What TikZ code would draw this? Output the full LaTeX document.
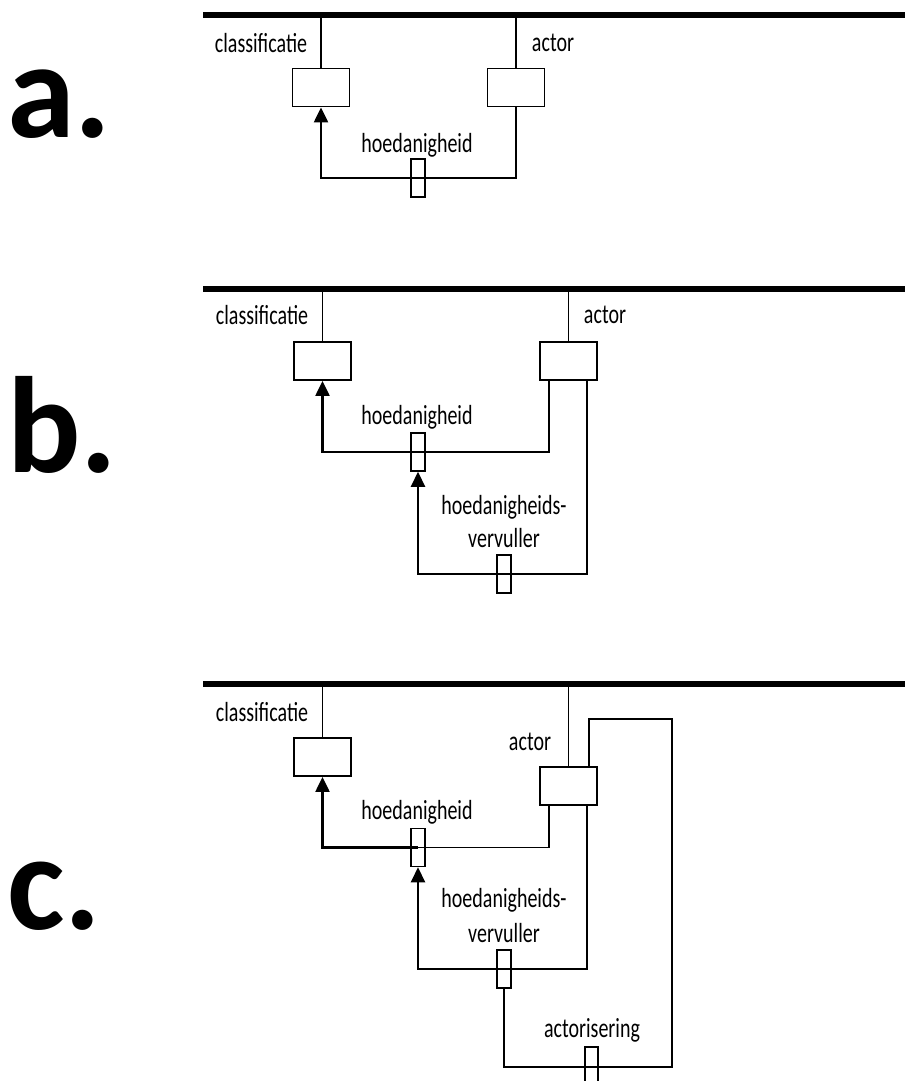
\documentclass[tikz,border=0pt]{standalone}
\usepackage{fontspec}
\setmainfont{Carlito}
\usetikzlibrary{arrows.meta}
\newcommand{\lab}[1]{\scalebox{1}[1.38]{#1}}
\begin{document}
\begin{tikzpicture}[x=1pt,y=-1pt,
  bar/.style={line width=6pt},
  thin/.style={line width=1.3pt},
  thick2/.style={line width=2.2pt},
  objbox/.style={draw,line width=1.8pt,minimum width=57pt,minimum height=38pt,inner sep=0pt},
  relbox/.style={draw,line width=1.5pt,minimum width=14pt,minimum height=38pt,inner sep=0pt},
  lbl/.style={font=\fontsize{20}{23}\selectfont,inner sep=0pt},
  letter/.style={font=\fontsize{137}{137}\selectfont\bfseries,inner sep=0pt,anchor=base west},
  arr/.style={thick2,-{Triangle[width=14pt,length=15pt]}}]
\useasboundingbox (0,0) rectangle (905,1081);

% letters
\node[letter] (la) at (7,137) {a.};
\node[letter] (lb) at (7,472) {b.};
\node[letter] (lc) at (7,929) {c.};

% ---------- panel a ----------
\coordinate (barAl) at (203,15);
\coordinate (barAr) at (905,15);
\draw[bar] (barAl) -- (barAr);
\node[objbox] (classA) at (321,87.5) {};
\node[objbox] (actorA) at (516,87.5) {};
\node[relbox] (hA) at (418,178) {};
\coordinate (tA1) at (321,15);
\coordinate (tA2) at (516,15);
\draw[thin] (tA1) -- (classA.north);
\draw[thin] (tA2) -- (actorA.north);
\draw[thin] (actorA.south) |- (hA.center);
\draw[arr] (hA.center) -| (classA.south);
\node[lbl] (lclassA) at (261,43) {\lab{classificatie}};
\node[lbl] (lactorA) at (553,43) {\lab{actor}};
\node[lbl] (lhA) at (417,145) {\lab{hoedanigheid}};

% ---------- panel b ----------
\coordinate (barBl) at (203,289);
\coordinate (barBr) at (905,289);
\draw[bar] (barBl) -- (barBr);
\node[objbox] (classB) at (322.5,361) {};
\node[objbox] (actorB) at (568.5,361) {};
\node[relbox] (hB) at (418,452) {};
\node[relbox] (hvB) at (504,574) {};
\coordinate (tB1) at (322.5,289);
\coordinate (tB2) at (568.5,289);
\draw[thin] (tB1) -- (classB.north);
\draw[thin] (tB2) -- (actorB.north);
\coordinate (aB1) at (549,380);
\coordinate (aB2) at (587,380);
\draw[thin] (aB1) |- (hB.center);
\draw[arr] (hB.center) -| (classB.south);
\draw[thin] (aB2) |- (hvB.center);
\draw[arr] (hvB.center) -| (hB.south);
\node[lbl] (lclassB) at (262,315) {\lab{classificatie}};
\node[lbl] (lactorB) at (605,315) {\lab{actor}};
\node[lbl] (lhB) at (417,417) {\lab{hoedanigheid}};
\node[lbl] (lhvB1) at (504,507) {\lab{hoedanigheids-}};
\node[lbl] (lhvB2) at (504,538) {\lab{vervuller}};

% ---------- panel c ----------
\coordinate (barCl) at (203,684);
\coordinate (barCr) at (905,684);
\draw[bar] (barCl) -- (barCr);
\node[objbox] (classC) at (322.5,757) {};
\node[objbox] (actorC) at (568.5,786) {};
\node[relbox] (hC) at (418,847.5) {};
\node[relbox] (hvC) at (504,969) {};
\node[relbox,minimum width=13pt] (acC) at (591.5,1066) {};
\coordinate (tC1) at (322.5,684);
\coordinate (tC2) at (568.5,684);
\draw[thin] (tC1) -- (classC.north);
\draw[thin] (tC2) -- (actorC.north);
\coordinate (aC1) at (549,805);
\coordinate (aC2) at (587,805);
\draw[thin] (aC1) |- (hC.center);
\draw[arr] (hC.center) -| (classC.south);
\draw[thin] (aC2) |- (hvC.center);
\draw[arr] (hvC.center) -| (hC.south);
\coordinate (acCr) at (672,1067);
\coordinate (acCt) at (672,719);
\coordinate (acCa) at (589,719);
\coordinate (acCb) at (589,767);
\draw[thin] (hvC.south) |- (acCr) -- (acCt) -- (acCa) -- (acCb);
\node[lbl] (lclassC) at (262,712) {\lab{classificatie}};
\node[lbl] (lactorC) at (530,742) {\lab{actor}};
\node[lbl] (lhC) at (417,812) {\lab{hoedanigheid}};
\node[lbl] (lhvC1) at (504,900) {\lab{hoedanigheids-}};
\node[lbl] (lhvC2) at (504,933) {\lab{vervuller}};
\node[lbl] (lacC) at (592,1030) {\lab{actorisering}};
\end{tikzpicture}
\end{document}
